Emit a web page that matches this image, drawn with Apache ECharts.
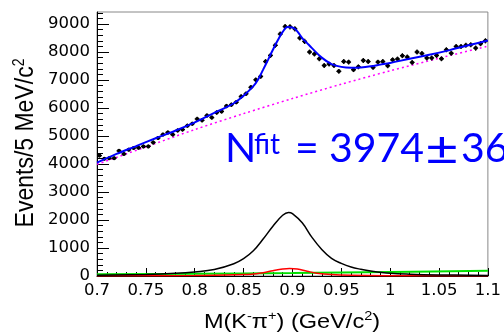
<!DOCTYPE html>
<html>
<head>
<meta charset="utf-8">
<script src="https://cdn.jsdelivr.net/npm/echarts@6/dist/echarts.min.js"></script>
<style>
  html, body { margin: 0; padding: 0; background: #fff; }
  #chart { width: 504px; height: 333px; }
</style>
</head>
<body>
<div id="chart"></div>
<script>
// Histogram binning of M(K-pi+): 80 bins of 5 MeV from 0.70 to 1.10 GeV
const massLo = 0.7;
const binWidth = 0.005;
const counts = [
  4300, 4190, 4210, 4210, 4470, 4360, 4510, 4570, 4580, 4630,
  4630, 4770, 4930, 5050, 5130, 5050, 5200, 5230, 5370, 5440,
  5610, 5560, 5730, 5660, 5840, 5880, 6070, 6120, 6210, 6410,
  6510, 6740, 7010, 7130, 7660, 7880, 8240, 8640, 8910, 8900,
  8830, 8500, 8380, 8000, 7930, 7760, 7520, 7570, 7520, 7310,
  7660, 7640, 7370, 7470, 7700, 7660, 7450, 7640, 7660, 7510,
  7720, 7750, 7870, 7820, 7630, 8000, 7950, 7790, 7790, 7880,
  7760, 8080, 7960, 8200, 8200, 8240, 8260, 8140, 8300, 8400
];

// Fit components sampled along the mass axis
const totalMass = [0.70, 0.72, 0.74, 0.76, 0.78, 0.80, 0.82, 0.83, 0.84, 0.85, 0.86, 0.865, 0.87, 0.875, 0.88, 0.885, 0.89, 0.895, 0.90, 0.905, 0.91, 0.915, 0.92, 0.93, 0.94, 0.95, 0.96, 0.97, 0.98, 0.99, 1.00, 1.02, 1.04, 1.06, 1.08, 1.10];
const totalPdf  = [4050, 4360, 4640, 4920, 5190, 5490, 5830, 5990, 6170, 6440, 6780, 7030, 7370, 7720, 8080, 8420, 8720, 8890, 8880, 8740, 8500, 8320, 8140, 7800, 7570, 7470, 7440, 7450, 7490, 7550, 7610, 7760, 7900, 8060, 8240, 8410];

const bkgMass = [0.70, 0.75, 0.80, 0.85, 0.90, 0.95, 1.00, 1.05, 1.10];
const bkgPdf  = [3990, 4610, 5230, 5800, 6340, 6850, 7330, 7780, 8210];

const kstarMass = [0.70, 0.75, 0.78, 0.80, 0.82, 0.84, 0.85, 0.86, 0.87, 0.88, 0.89, 0.896, 0.90, 0.91, 0.92, 0.93, 0.94, 0.95, 0.96, 0.97, 0.98, 1.00, 1.02, 1.05, 1.10];
const kstarPdf  = [25, 55, 95, 145, 230, 440, 620, 900, 1320, 1780, 2170, 2270, 2230, 1900, 1380, 950, 630, 450, 320, 240, 180, 100, 65, 40, 20];

const redMass = [0.70, 0.80, 0.85, 0.87, 0.88, 0.89, 0.897, 0.905, 0.915, 0.925, 0.94, 0.96, 1.00, 1.10];
const redPdf  = [8, 18, 50, 120, 190, 250, 270, 250, 170, 100, 50, 25, 12, 5];

const greenMass = [0.70, 0.80, 0.90, 1.00, 1.10];
const greenPdf  = [65, 80, 105, 145, 185];

// Axis ticks
const xMajorTicks = [0.7, 0.75, 0.8, 0.85, 0.9, 0.95, 1.0, 1.05, 1.1];
const xTickLabels = ['0.7', '0.75', '0.8', '0.85', '0.9', '0.95', '1', '1.05', '1.1'];
const yMajorTicks = [0, 1000, 2000, 3000, 4000, 5000, 6000, 7000, 8000, 9000];
const yTickLabels = ['0', '1000', '2000', '3000', '4000', '5000', '6000', '7000', '8000', '9000'];
const yMax = 9430;

const fitLabel = { n: 'N', sup: 'fit', value: '3974', pm: '±', err: '36' };

// ---- build ----
const points = counts.map((c, i) => [massLo + binWidth * (i + 0.5), c]);
const pairs = (xs, ys) => xs.map((x, i) => [x, ys[i]]);

const yMinorTicks = [];
for (let v = 200; v < yMax; v += 200) if (v % 1000 !== 0) yMinorTicks.push(v);
const xMinorTicks = [];
for (let k = 71; k < 110; k++) if (k % 5 !== 0) xMinorTicks.push(k / 100);

const labelFont = { fontFamily: 'DejaVu Sans', fontSize: 16.5, color: '#000' };

const chart = echarts.init(document.getElementById('chart'), null, { renderer: 'canvas' });
chart.setOption({
  animation: false,
  backgroundColor: '#fff',
  grid: { left: 97, top: 12, right: 15, bottom: 57, show: true, borderColor: '#888', borderWidth: 1, backgroundColor: 'transparent' },
  xAxis: [
    {
      type: 'value', min: 0.7, max: 1.1, interval: 0.05,
      axisLine: { lineStyle: { color: '#000', width: 1 } },
      axisTick: { inside: true, length: 8, customValues: xMajorTicks, lineStyle: { color: '#000' } },
      axisLabel: Object.assign({ margin: 6, customValues: xMajorTicks,
        formatter: v => xTickLabels[xMajorTicks.findIndex(t => Math.abs(t - v) < 1e-6)] ?? '' }, labelFont),
      splitLine: { show: false }
    },
    {
      type: 'value', min: 0.7, max: 1.1, position: 'bottom',
      axisLine: { show: false },
      axisTick: { inside: true, length: 4, customValues: xMinorTicks, lineStyle: { color: '#000' } },
      axisLabel: { show: false },
      splitLine: { show: false }
    }
  ],
  yAxis: [
    {
      type: 'value', min: 0, max: yMax,
      axisLine: { show: true, lineStyle: { color: '#000', width: 1 } },
      axisTick: { show: true, inside: true, length: 12, customValues: yMajorTicks, lineStyle: { color: '#000' } },
      axisLabel: Object.assign({ margin: 7, customValues: yMajorTicks,
        formatter: v => yTickLabels[yMajorTicks.indexOf(Math.round(v))] ?? '' }, labelFont),
      splitLine: { show: false }
    },
    {
      type: 'value', min: 0, max: yMax, position: 'left',
      axisLine: { show: false },
      axisTick: { show: true, inside: true, length: 6, customValues: yMinorTicks, lineStyle: { color: '#000' } },
      axisLabel: { show: false },
      splitLine: { show: false }
    }
  ],
  series: [
    {
      type: 'line', data: pairs(greenMass, greenPdf), smooth: 0.3, showSymbol: false,
      lineStyle: { color: '#00e000', width: 2 }, z: 3
    },
    {
      type: 'line', data: pairs(redMass, redPdf), smooth: 0.4, showSymbol: false,
      lineStyle: { color: '#ff0000', width: 1.5 }, z: 4
    },
    {
      type: 'line', data: pairs(kstarMass, kstarPdf), smooth: 0.4, showSymbol: false,
      lineStyle: { color: '#000', width: 1.5 }, z: 5
    },
    {
      type: 'line', data: pairs(bkgMass, bkgPdf), smooth: 0.3, showSymbol: false,
      lineStyle: { color: '#ff00ff', width: 1.5, type: [2, 3] }, z: 3
    },
    {
      type: 'custom', data: points, z: 6,
      renderItem: (params, api) => {
        const x = api.value(0), y = api.value(1);
        const c = api.coord([x, y]);
        const l = api.coord([x - binWidth / 2, y]);
        const r = api.coord([x + binWidth / 2, y]);
        const e = Math.sqrt(y);
        const t = api.coord([x, y + e]);
        const b = api.coord([x, y - e]);
        const st = { stroke: '#000', lineWidth: 1.3 };
        return {
          type: 'group',
          children: [
            { type: 'line', shape: { x1: l[0], y1: c[1], x2: r[0], y2: c[1] }, style: st },
            { type: 'line', shape: { x1: c[0], y1: t[1], x2: c[0], y2: b[1] }, style: st },
            { type: 'circle', shape: { cx: c[0], cy: c[1], r: 2 }, style: { fill: '#000' } }
          ]
        };
      }
    },
    {
      type: 'line', data: pairs(totalMass, totalPdf), smooth: 0.35, showSymbol: false,
      lineStyle: { color: '#0000ff', width: 2 }, z: 7
    }
  ],
  graphic: [
    {
      type: 'text', x: 292, y: 322, scaleX: 1.12, z: 10,
      style: {
        text: '{a|M(K}{s|-}{a|π}{s|+}{a|) (GeV/c}{s|2}{a|)}',
        align: 'center', verticalAlign: 'middle',
        rich: {
          a: { fontFamily: 'Liberation Sans', fontSize: 21, fill: '#000', lineHeight: 24 },
          s: { fontFamily: 'Liberation Sans', fontSize: 13, fill: '#000', verticalAlign: 'top', lineHeight: 24 }
        }
      }
    },
    {
      type: 'text', x: 26, y: 143, rotation: Math.PI / 2, scaleY: 1.12, z: 10,
      style: {
        text: '{a|Events/5 MeV/c}{s|2}',
        align: 'center', verticalAlign: 'middle',
        rich: {
          a: { fontFamily: 'Liberation Sans', fontSize: 23, fill: '#000', lineHeight: 26 },
          s: { fontFamily: 'Liberation Sans', fontSize: 14, fill: '#000', verticalAlign: 'top', lineHeight: 26 }
        }
      }
    },
    { type: 'text', x: 225, y: 149, z: 10, style: { text: fitLabel.n, font: '41px Lato', fill: '#0000ff', verticalAlign: 'middle' } },
    { type: 'text', x: 254, y: 145, z: 10, style: { text: fitLabel.sup, font: '28px Lato', fill: '#0000ff', verticalAlign: 'middle' } },
    { type: 'text', x: 295, y: 149, z: 10, style: { text: '=', font: '41px Lato', fill: '#0000ff', verticalAlign: 'middle' } },
    { type: 'text', x: 329, y: 149, z: 10, style: { text: fitLabel.value, font: '41px Lato', fill: '#0000ff', verticalAlign: 'middle' } },
    { type: 'text', x: 442, y: 150, scaleX: 1.25, z: 10, style: { text: fitLabel.pm, font: '46px Lato', fill: '#0000ff', align: 'center', verticalAlign: 'middle' } },
    { type: 'text', x: 461, y: 149, z: 10, style: { text: fitLabel.err, font: '41px Lato', fill: '#0000ff', verticalAlign: 'middle' } }
  ]
});
</script>
</body>
</html>
